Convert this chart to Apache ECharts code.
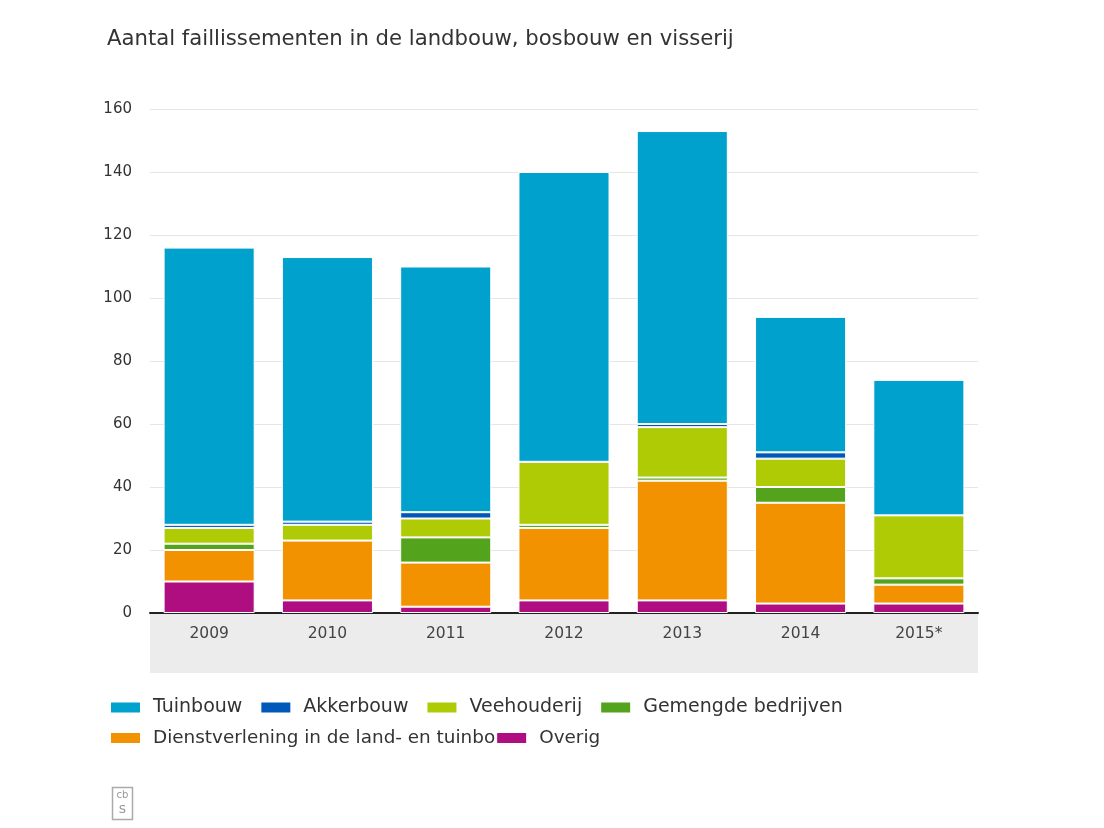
<!DOCTYPE html>
<html>
<head>
<meta charset="utf-8">
<script src="https://cdn.jsdelivr.net/npm/echarts@6/dist/echarts.min.js"></script>
<style>html,body{margin:0;padding:0;background:#fff}#c{width:1104px;height:828px}</style>
</head>
<body>
<div id="c"></div>
<script>
const years = ['2009','2010','2011','2012','2013','2014','2015*'];
const overig = [10, 4, 2, 4, 4, 3, 3];
const dienstverlening = [10, 19, 14, 23, 38, 32, 6];
const gemengd = [2, 0, 8, 1, 1, 5, 2];
const veehouderij = [5, 5, 6, 20, 16, 9, 20];
const akkerbouw = [1, 1, 2, 0, 1, 2, 0];
const tuinbouw = [88, 84, 78, 92, 93, 43, 43];
const yTicks = [0, 20, 40, 60, 80, 100, 120, 140, 160];

const names = {
  tuin: 'Tuinbouw', akker: 'Akkerbouw', vee: 'Veehouderij', gem: 'Gemengde bedrijven',
  dienst: 'Dienstverlening in de land- en tuinbouw', overig: 'Overig'
};
const colors = {
  tuin: '#00a1cd', akker: '#0058b8', vee: '#afcb05', gem: '#53a31d', dienst: '#f39200', overig: '#af0e80'
};

const chart = echarts.init(document.getElementById('c'));
function ser(key, data) {
  return {
    name: names[key], type: 'bar', stack: 'total', data: data,
    barCategoryGap: '23%',
    itemStyle: { color: colors[key], borderColor: '#ffffff', borderWidth: 1 },
    emphasis: { disabled: true }
  };
}
const legendText = { fontFamily: 'DejaVu Sans', fontSize: 19, color: '#333', padding: [0, 0, 0, 7] };
const legendText2 = { fontFamily: 'DejaVu Sans', fontSize: 18.4, color: '#333', padding: [0, 0, 0, 7] };
chart.setOption({
  animation: false,
  title: {
    text: 'Aantal faillissementen in de landbouw, bosbouw en visserij',
    left: 102, top: 24,
    textStyle: { fontFamily: 'DejaVu Sans', fontSize: 21.2, fontWeight: 'normal', color: '#333' }
  },
  graphic: [
    { type: 'rect', shape: { x: 150, y: 614, width: 828, height: 59 }, style: { fill: '#ececec' }, z: -1 },
    { type: 'group', left: 110, top: 785, children: [
      { type: 'rect', shape: { x: 0, y: 0, width: 20, height: 32 }, style: { fill: 'none', stroke: '#aaa', lineWidth: 1.5 } },
      { type: 'text', style: { x: 10, y: 8, text: 'cb', fontSize: 10, fill: '#999', align: 'center', verticalAlign: 'middle', fontFamily: 'DejaVu Sans' } },
      { type: 'text', style: { x: 10, y: 22, text: 's', fontSize: 14, fill: '#999', align: 'center', verticalAlign: 'middle', fontFamily: 'DejaVu Sans' } }
    ]}
  ],
  legend: [
    {
      data: [names.tuin, names.akker, names.vee, names.gem],
      left: 104, top: 693, itemWidth: 31, itemHeight: 12, itemGap: 17,
      icon: 'rect', textStyle: legendText, selectedMode: false
    },
    {
      data: [names.dienst, names.overig],
      left: 104, top: 724, itemWidth: 31, itemHeight: 12, itemGap: 0,
      icon: 'rect', textStyle: legendText2, selectedMode: false,
      formatter: function (n) { return n === names.dienst ? 'Dienstverlening in de land- en tuinbo' : n; }
    }
  ],
  grid: { left: 150, right: 126, top: 109, bottom: 215 },
  xAxis: {
    type: 'category', data: years,
    axisLine: { lineStyle: { color: '#222', width: 2 } },
    axisTick: { show: false },
    axisLabel: { fontFamily: 'DejaVu Sans', fontSize: 15.5, color: '#444', margin: 13 }
  },
  yAxis: {
    type: 'value', min: yTicks[0], max: yTicks[yTicks.length - 1], interval: 20,
    axisLine: { show: false }, axisTick: { show: false },
    splitLine: { lineStyle: { color: '#e6e6e6', width: 1 } },
    axisLabel: { fontFamily: 'DejaVu Sans', fontSize: 15, color: '#333', margin: 18 }
  },
  series: [
    ser('overig', overig),
    ser('dienst', dienstverlening),
    ser('gem', gemengd),
    ser('vee', veehouderij),
    ser('akker', akkerbouw),
    ser('tuin', tuinbouw)
  ]
});
</script>
</body>
</html>
